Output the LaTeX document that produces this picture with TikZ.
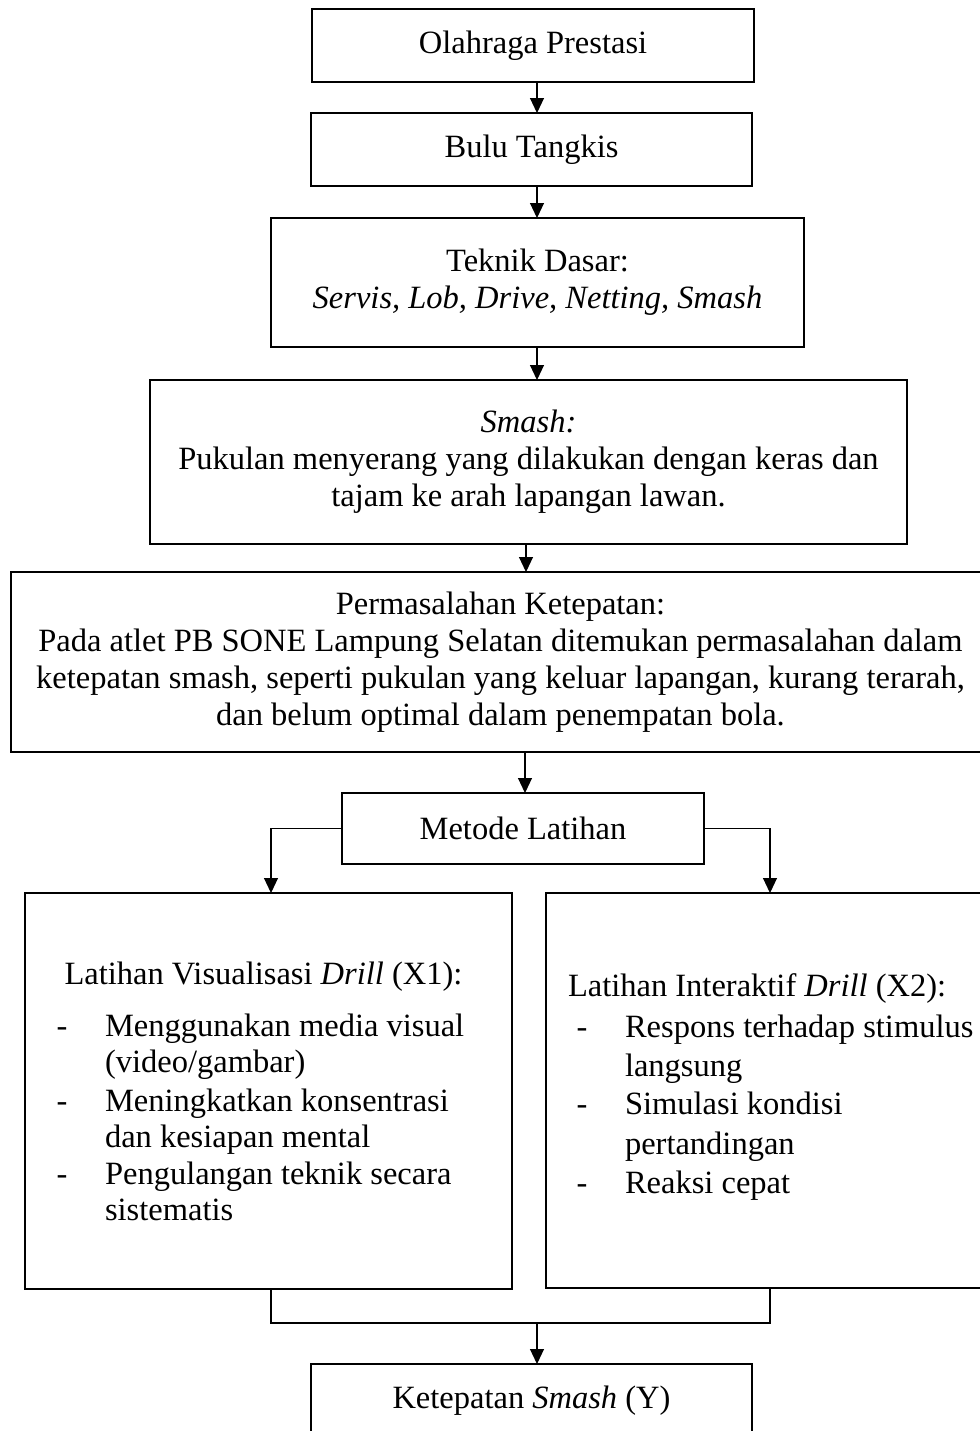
\documentclass[tikz,border=0pt]{standalone}
\usepackage{fontspec}
\setmainfont{Liberation Serif}
\usetikzlibrary{arrows.meta}
\begin{document}
\begin{tikzpicture}[x=0.5pt,y=-0.5pt,
  every node/.style={font=\fontsize{16.25pt}{18.6pt}\selectfont, inner sep=0pt, outer sep=0pt},
  box/.style={draw, line width=1.25pt, align=center},
  conn/.style={line width=0.55pt},
  arr/.style={conn, -{Triangle[length=7.5pt,width=7pt]}},
  lefttxt/.style={anchor=mid west},
  dashtxt/.style={anchor=mid}]
\clip (0,0) rectangle (980,1431);
\fill[white] (0,0) rectangle (980,1431);

% boxes
\node[box, minimum width=221pt, minimum height=36.5pt] (o1) at (533,45.5) {Olahraga Prestasi};
\node[box, minimum width=220.5pt, minimum height=36.5pt] (o2) at (531.5,149.5) {Bulu Tangkis};
\node[box, minimum width=266.5pt, minimum height=64.5pt] (o3) at (537.5,282.5)
  {Teknik Dasar:\\ \textit{Servis, Lob, Drive, Netting, Smash}};
\node[box, minimum width=378.5pt, minimum height=82pt] (o4) at (528.5,462)
  {\textit{Smash:}\\ Pukulan menyerang yang dilakukan dengan keras dan\\ tajam ke arah lapangan lawan.};
\node[box, minimum width=489.5pt, minimum height=90pt] (o5) at (500.5,662)
  {Permasalahan Ketepatan:\\ Pada atlet PB SONE Lampung Selatan ditemukan permasalahan dalam\\ ketepatan smash, seperti pukulan yang keluar lapangan, kurang terarah,\\ dan belum optimal dalam penempatan bola.};
\node[box, minimum width=181pt, minimum height=35.5pt] (o6) at (523,828.5) {Metode Latihan};
\node[box, minimum width=243.5pt, minimum height=198pt] (o7) at (268.5,1091) {};
\node[box, minimum width=243.5pt, minimum height=197.5pt] (o8) at (789.5,1090.5) {};
\node[box, minimum width=220.5pt, minimum height=36.5pt] (o9) at (531.5,1400.5) {Ketepatan \textit{Smash} (Y)};

% left box text
\node[anchor=mid] (h1) at (263.5,980) {Latihan Visualisasi \textit{Drill} (X1):};
\node[dashtxt] (d11) at (62,1032) {-};
\node[dashtxt] (d12) at (62,1107) {-};
\node[dashtxt] (d13) at (62,1180) {-};
\node[lefttxt] (l11) at (105,1032) {Menggunakan media visual};
\node[lefttxt] (l12) at (105,1068) {(video/gambar)};
\node[lefttxt] (l13) at (105,1107) {Meningkatkan konsentrasi};
\node[lefttxt] (l14) at (105,1143) {dan kesiapan mental};
\node[lefttxt] (l15) at (105,1180) {Pengulangan teknik secara};
\node[lefttxt] (l16) at (105,1216) {sistematis};

% right box text
\node[lefttxt] (h2) at (568,992) {Latihan Interaktif \textit{Drill} (X2):};
\node[dashtxt] (d21) at (582,1033) {-};
\node[dashtxt] (d22) at (582,1110) {-};
\node[dashtxt] (d23) at (582,1189) {-};
\node[lefttxt] (l21) at (625,1033) {Respons terhadap stimulus};
\node[lefttxt] (l22) at (625,1072) {langsung};
\node[lefttxt] (l23) at (625,1110) {Simulasi kondisi};
\node[lefttxt] (l24) at (625,1150) {pertandingan};
\node[lefttxt] (l25) at (625,1189) {Reaksi cepat};

% helper coordinates
\coordinate (xa) at (537,0);
\coordinate (xb) at (526,0);
\coordinate (xc) at (525,0);
\coordinate (xl) at (271,0);
\coordinate (xr) at (770,0);
\coordinate (jn) at (537,1323);

% connectors
\draw[arr] (o1.south -| xa) -- (o2.north -| xa);
\draw[arr] (o2.south -| xa) -- (o3.north -| xa);
\draw[arr] (o3.south -| xa) -- (o4.north -| xa);
\draw[arr] (o4.south -| xb) -- (o5.north -| xb);
\draw[arr] (o5.south -| xc) -- (o6.north -| xc);
\draw[arr] (o6.west) -| (o7.north -| xl);
\draw[arr] (o6.east) -| (o8.north -| xr);
\draw[conn] (o7.south -| xl) -- (xl |- jn) -- (xr |- jn) -- (o8.south -| xr);
\draw[arr] (jn) -- (o9.north -| jn);
\end{tikzpicture}
\end{document}
